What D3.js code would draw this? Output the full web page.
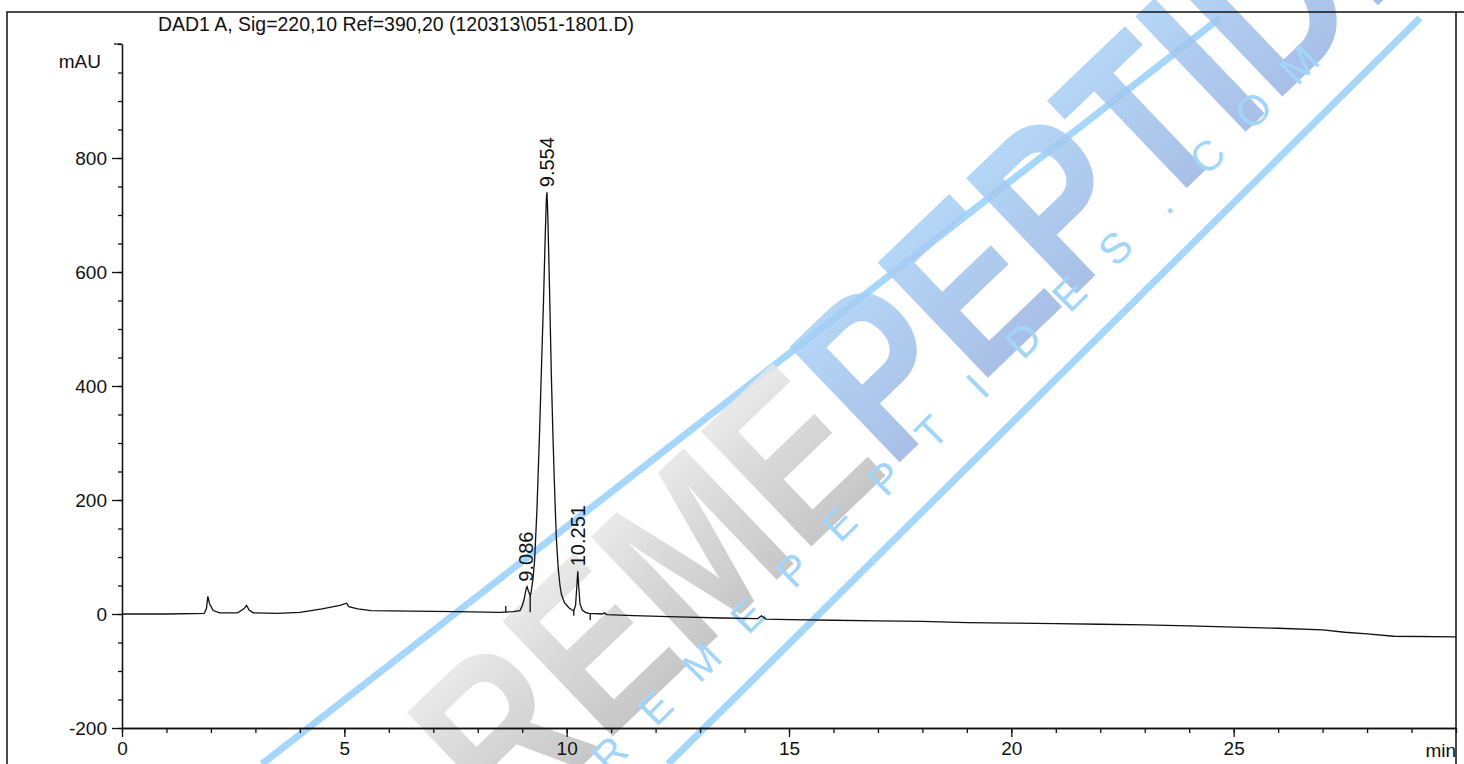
<!DOCTYPE html>
<html>
<head>
<meta charset="utf-8">
<script src="https://cdn.jsdelivr.net/npm/d3@7"></script>
<style>
    body { margin: 0; background: #fff; }
    svg text { font-family: "Liberation Sans", Arial, sans-serif; fill: #111; }
</style>
</head>
<body>
<svg id="chart" width="1464" height="764"></svg>
<script>
// retention time (min) and detector signal (mAU)
const times = [0, 1.0, 1.85, 1.9, 1.93, 1.97, 2.05, 2.2, 2.6, 2.74, 2.8, 2.86, 2.95, 3.5, 4.0, 4.5, 4.9, 5.05, 5.1, 5.3, 5.6,
    6.5, 7.5, 8.5, 8.8, 8.95, 9.0, 9.05, 9.09, 9.11, 9.14, 9.18, 9.2, 9.24, 9.28, 9.33, 9.39, 9.44, 9.48, 9.52, 9.545,
    9.556, 9.57, 9.6, 9.62, 9.655, 9.69, 9.72, 9.75, 9.77, 9.81, 9.85, 9.88, 9.95, 10.05, 10.12, 10.16, 10.2, 10.23,
    10.25, 10.27, 10.3, 10.35, 10.42, 10.5, 10.8, 10.85, 10.9, 11.5, 12.5, 13.5, 14.3, 14.38, 14.48, 15, 16, 17, 18,
    19, 20, 21, 22, 23, 24, 25, 26, 27, 27.5, 28, 28.6, 30];
const signal = [0, 0, 1, 10, 31, 18, 6, 2, 2, 9, 15, 7, 2, 1, 3, 9, 15, 19, 13, 9, 6,
    5, 4, 3, 4, 6, 14, 28, 45, 48, 40, 32, 38, 60, 95, 180, 317, 450, 551, 670, 730,
    740, 715, 620, 551, 420, 317, 240, 171, 130, 80, 50, 35, 20, 11, 7, 6, 15, 50,
    75, 50, 18, 7, 3, 1, 0, 2, -1, -3, -5, -7, -8, -3, -9, -10, -11, -12, -13,
    -15, -16, -17, -18, -19, -21, -23, -25, -28, -32, -35, -39, -40];

// integration markers (vertical strokes on the trace)
const markerTimes = [8.63, 9.18, 10.16, 10.53];
const markerTop = [14, 32, 6, 1];
const markerBottom = [3, 3, -3, -11];

const peakTimes = [9.086, 9.554, 10.251];
const peakHeights = [48, 740, 75];
const peakLabels = ["9.086", "9.554", "10.251"];

const xTicks = [0, 5, 10, 15, 20, 25];
const xMinor = d3.range(0, 31, 1);
const yTicks = [-200, 0, 200, 400, 600, 800];
const yMinor = d3.range(-200, 1001, 50);

const title = "DAD1 A, Sig=220,10 Ref=390,20 (120313\\051-1801.D)";

const svg = d3.select("#chart");
const x = d3.scaleLinear().domain([0, 30]).range([122, 1456]);
const y = d3.scaleLinear().domain([-200, 1000]).range([728, 44]);

// ---- watermark ----
const defs = svg.append("defs");
const gBlue = defs.append("linearGradient").attr("id", "blueGrad")
    .attr("x1", 0).attr("y1", 1).attr("x2", 0).attr("y2", 0);
gBlue.append("stop").attr("offset", 0).attr("stop-color", "#96acdd");
gBlue.append("stop").attr("offset", 1).attr("stop-color", "#acd8fb");
const gGrey = defs.append("linearGradient").attr("id", "greyGrad")
    .attr("x1", 0).attr("y1", 1).attr("x2", 0).attr("y2", 0);
gGrey.append("stop").attr("offset", 0).attr("stop-color", "#b2b2b2");
gGrey.append("stop").attr("offset", 0.6).attr("stop-color", "#d6d6d6");
gGrey.append("stop").attr("offset", 1).attr("stop-color", "#f6f6f6");

const wm = svg.append("g").attr("class", "watermark");
wm.append("line").attr("x1", 262).attr("y1", 764).attr("x2", 1220).attr("y2", 18)
    .attr("stroke", "#a6d7fa").attr("stroke-width", 7);
wm.append("line").attr("x1", 668).attr("y1", 764).attr("x2", 1420).attr("y2", 18)
    .attr("stroke", "#a6d7fa").attr("stroke-width", 7);

const big = wm.append("text")
    .attr("transform", "translate(971,282) rotate(-43.7)")
    .attr("text-anchor", "middle")
    .attr("dominant-baseline", "central")
    .attr("textLength", 1435)
    .attr("lengthAdjust", "spacingAndGlyphs")
    .style("font-weight", "bold")
    .style("font-size", "232px")
    .attr("opacity", 0.85);
big.append("tspan").style("fill", "url(#greyGrad)").text("REME");
big.append("tspan").style("fill", "url(#blueGrad)").text("PEPTIDES");

const small = "REMEPEPTIDES.COM".split("");
wm.append("g").attr("transform", "translate(620,764) rotate(-45)")
    .selectAll("text").data(small).enter().append("text")
    .attr("x", (d, i) => i * 65)
    .attr("text-anchor", "middle")
    .style("font-size", "42px")
    .style("fill", "#a3d5f8")
    .text(d => d);

// ---- frame ----
svg.append("path")
    .attr("d", "M7,764 V12 H1464 M1456,12 V764")
    .attr("fill", "none").attr("stroke", "#111").attr("stroke-width", 1.5);

svg.append("text")
    .attr("x", 158).attr("y", 31)
    .attr("textLength", 476)
    .attr("lengthAdjust", "spacingAndGlyphs")
    .style("font-size", "21px")
    .text(title);

// ---- axes ----
const yAxisMinor = d3.axisLeft(y).tickValues(yMinor).tickSize(4).tickSizeOuter(0).tickFormat("");
const yAxis = d3.axisLeft(y).tickValues(yTicks).tickSize(10).tickSizeOuter(0).tickPadding(5)
    .tickFormat(d => String(d));
svg.append("g").attr("transform", "translate(122,0)").call(yAxisMinor);
svg.append("g").attr("transform", "translate(122,0)").call(yAxis);

const xAxisMinor = d3.axisBottom(x).tickValues(xMinor).tickSize(5).tickSizeOuter(0).tickFormat("");
const xAxis = d3.axisBottom(x).tickValues(xTicks).tickSize(9).tickSizeOuter(0).tickPadding(5);
svg.append("g").attr("transform", "translate(0,728)").call(xAxisMinor);
svg.append("g").attr("transform", "translate(0,728)").call(xAxis);

svg.selectAll(".tick text").style("font-size", "19px").style("font-family", null).attr("fill", "#111");
svg.selectAll(".domain, .tick line").attr("stroke", "#111").attr("stroke-width", 1.3);

// top tick with unit label
svg.append("line").attr("x1", 114).attr("x2", 122).attr("y1", y(1000)).attr("y2", y(1000))
    .attr("stroke", "#111").attr("stroke-width", 1.3);
svg.append("text").attr("x", 101).attr("y", 68).attr("text-anchor", "end")
    .style("font-size", "19px").text("mAU");
svg.append("text").attr("x", 1456).attr("y", 757).attr("text-anchor", "end")
    .style("font-size", "19px").text("min");

// ---- trace ----
const line = d3.line().x(d => x(d[0])).y(d => y(d[1]));
svg.append("path")
    .datum(d3.zip(times, signal))
    .attr("d", line)
    .attr("fill", "none")
    .attr("stroke", "#111")
    .attr("stroke-width", 1.3);

svg.append("g").selectAll("line").data(markerTimes).enter().append("line")
    .attr("x1", d => x(d)).attr("x2", d => x(d))
    .attr("y1", (d, i) => y(markerTop[i])).attr("y2", (d, i) => y(markerBottom[i]))
    .attr("stroke", "#111").attr("stroke-width", 1.3);

// peak labels
svg.append("g").selectAll("text").data(peakTimes).enter().append("text")
    .attr("transform", (d, i) => `translate(${x(d) + 7},${y(peakHeights[i]) - 5}) rotate(-90)`)
    .style("font-size", "20px")
    .text((d, i) => peakLabels[i]);
</script>
</body>
</html>
